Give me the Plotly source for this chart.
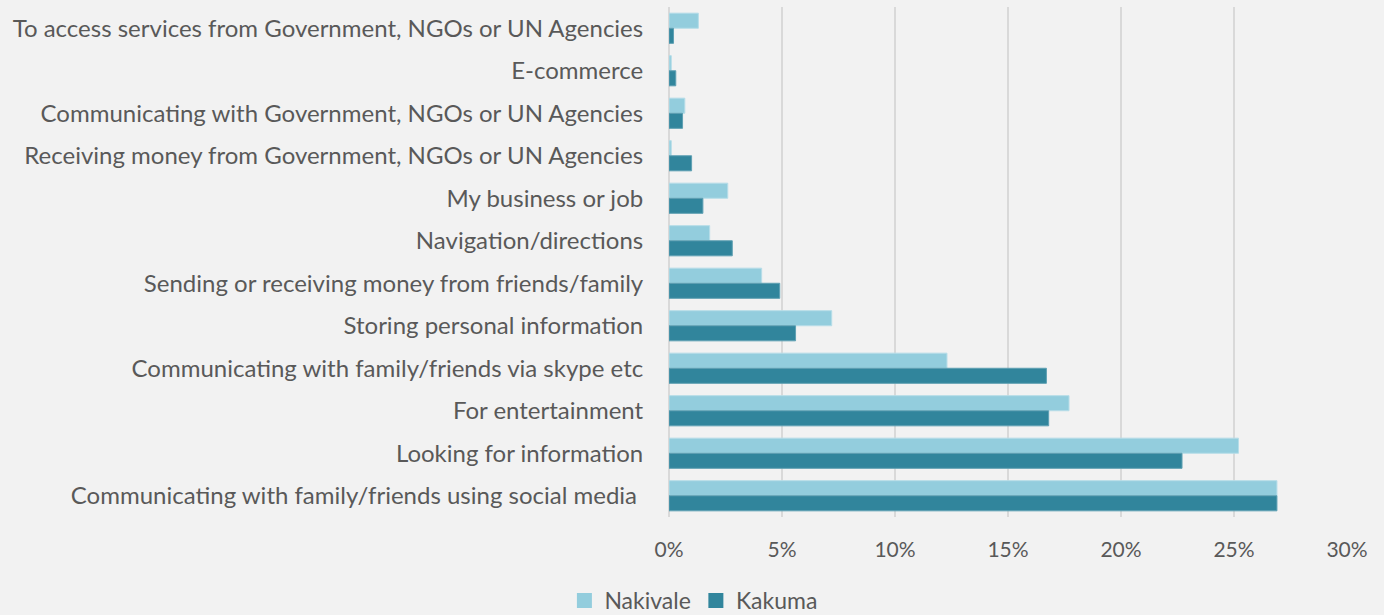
import plotly.graph_objects as go

# Purposes of internet use, listed top to bottom
categories = [
    "To access services from Government, NGOs or UN Agencies",
    "E-commerce",
    "Communicating with Government, NGOs or UN Agencies",
    "Receiving money from Government, NGOs or UN Agencies",
    "My business or job",
    "Navigation/directions",
    "Sending or receiving money from friends/family",
    "Storing personal information",
    "Communicating with family/friends via skype etc",
    "For entertainment",
    "Looking for information",
    "Communicating with family/friends using social media\u00a0",
]

nakivale = [0.013, 0.001, 0.007, 0.001, 0.026, 0.018, 0.041, 0.072, 0.123, 0.177, 0.252, 0.269]
kakuma = [0.002, 0.003, 0.006, 0.010, 0.015, 0.028, 0.049, 0.056, 0.167, 0.168, 0.227, 0.269]

x_ticks = [0, 0.05, 0.10, 0.15, 0.20, 0.25, 0.30]

series = [
    ("Nakivale", nakivale, "#93cddd", "#b7dde8"),
    ("Kakuma", kakuma, "#31859c", "#5fa0b3"),
]

BG = "#f2f2f2"
GRID = "#d9d9d9"
TEXT = "#595959"
FONT = "Lato"

fig = go.Figure()
for name, values, color, edge in series:
    fig.add_trace(go.Bar(
        y=categories, x=values, name=name, orientation="h",
        marker=dict(color=color, line=dict(color=edge, width=1)),
        showlegend=False,
    ))
# legend keys drawn as square markers
for name, values, color, edge in series:
    fig.add_trace(go.Scatter(
        x=[None], y=[None], mode="markers", name=name,
        marker=dict(symbol="square", size=15, color=color),
        showlegend=True, hoverinfo="skip",
    ))

fig.update_layout(
    width=1384, height=615,
    paper_bgcolor=BG, plot_bgcolor=BG,
    margin=dict(l=669, r=37, t=7, b=98, autoexpand=False),
    barmode="group", bargap=0.29, bargroupgap=0,
    font=dict(family=FONT, color=TEXT),
    showlegend=True,
    legend=dict(
        orientation="h", x=0.036, xanchor="center", y=-0.206, yanchor="bottom",
        font=dict(size=23, color=TEXT, family=FONT), bgcolor="rgba(0,0,0,0)",
        itemwidth=30,
    ),
    xaxis=dict(
        range=[0, 0.30], tickvals=x_ticks, tickformat=".0%",
        showgrid=True, gridcolor=GRID, gridwidth=1.5,
        zeroline=True, zerolinecolor=GRID, zerolinewidth=1.5,
        showline=False, ticks="outside", ticklen=14, tickcolor=BG,
        tickfont=dict(size=21, color=TEXT, family=FONT),
        automargin=False, fixedrange=True,
    ),
    yaxis=dict(
        autorange="reversed", showgrid=False, showline=False,
        ticks="outside", ticklen=20, tickcolor=BG,
        tickfont=dict(size=24, color=TEXT, family=FONT),
        automargin=False, fixedrange=True,
    ),
)

fig.write_html("out.html")
